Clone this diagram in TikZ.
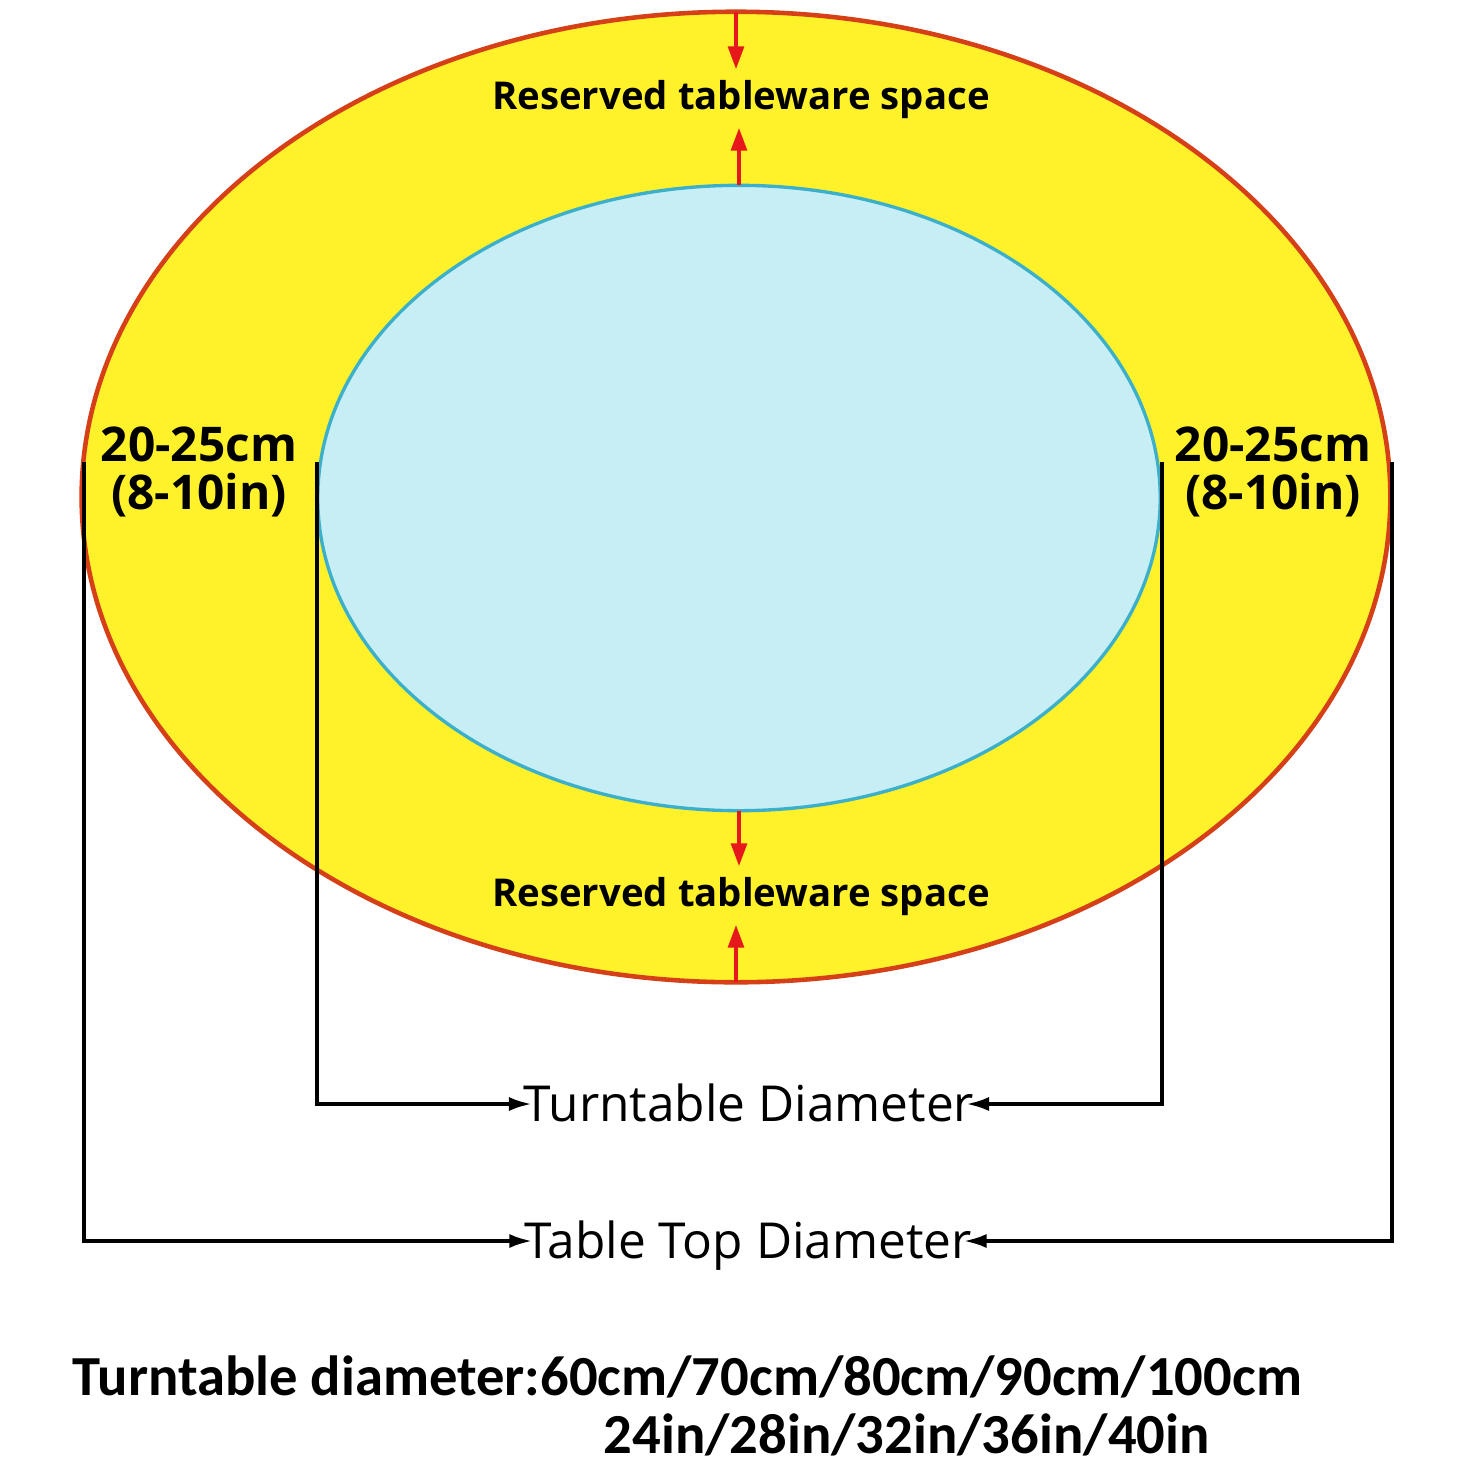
\documentclass[tikz,border=0pt]{standalone}
\usepackage{fontspec}
\setmainfont{Open Sans}
\newfontfamily\narrowfont{Carlito}
\usetikzlibrary{arrows.meta, shapes.geometric, positioning}

\definecolor{tableyellow}{RGB}{255,241,42}
\definecolor{tableedge}{RGB}{214,64,24}
\definecolor{turnblue}{RGB}{198,238,244}
\definecolor{turnedge}{RGB}{60,176,202}
\definecolor{arrowred}{RGB}{230,24,28}

\tikzset{
  reserved/.style={font=\bfseries\fontsize{10.9}{12}\selectfont, inner sep=0pt},
  gaplabel/.style={font=\bfseries\fontsize{13.6}{13.7}\selectfont, align=center, inner sep=0pt},
  diam/.style={font=\fontsize{14.1}{16}\selectfont, inner sep=0pt, text height=10pt, text depth=0pt},
  sizes/.style={font=\narrowfont\bfseries\fontsize{16.1}{18}\selectfont, inner sep=0pt},
  redarrow/.style={draw=arrowred, line width=1.2pt, -{Triangle[length=6.5pt, width=4.4pt]}},
  dimline/.style={line width=1.05pt, line join=miter, shorten >=-2.5pt, -{Latex[length=6.5pt, width=4pt]}},
}

\begin{document}
\begin{tikzpicture}[x=0.01cm, y=-0.01cm]
    % page with the reference margins
    \fill[white] (0,0) rectangle (1468,1469);
    \useasboundingbox (0,0) rectangle (1468,1469);

    % Table top and turntable
    \node[ellipse, fill=tableyellow, draw=tableedge, line width=1.3pt,
          minimum width=13.08cm, minimum height=9.70cm, inner sep=0pt, outer sep=0pt]
          (table) at (736,497) {};
    \node[ellipse, fill=turnblue, draw=turnedge, line width=0.95pt,
          minimum width=8.42cm, minimum height=6.25cm, inner sep=0pt, outer sep=0pt]
          (turn) at (739,498) {};

    % Labels in the yellow ring
    \node[reserved, anchor=base] (rtop) at (741,109) {Reserved tableware space};
    \node[reserved, anchor=base] (rbot) at (741,906) {Reserved tableware space};
    \node[gaplabel] (gapl) at (199,472) {20-25cm\\(8-10in)};
    \node[gaplabel] (gapr) at (1273,472) {20-25cm\\(8-10in)};

    % --- Red arrows for the reserved space ---
    \draw[redarrow, shorten >=2.8pt] (table.north) -- (table.north |- rtop.north);
    \draw[redarrow, shorten >=2.5pt] (turn.north) -- (turn.north |- rtop.south);
    \draw[redarrow, shorten >=2.8pt] (turn.south) -- (turn.south |- rbot.north);
    \draw[redarrow, shorten >=2.5pt] (table.south) -- (table.south |- rbot.south);

    % Dimension lines
    \coordinate (turnL) at (317,462);
    \coordinate (turnR) at (1162,462);
    \coordinate (tableL) at (84,462);
    \coordinate (tableR) at (1392,462);

    \node[diam] (turndiam) at (749,1104) {Turntable Diameter};
    \node[diam] (tablediam) at (748,1241) {Table Top Diameter};

    \draw[dimline] (turnL) |- (turndiam.west);
    \draw[dimline] (turnR) |- (turndiam.east);
    \draw[dimline] (tableL) |- (tablediam.west);
    \draw[dimline] (tableR) |- (tablediam.east);

    % Available sizes
    \node[sizes, anchor=base west] (sizecm) at (72,1395) {Turntable diameter:60cm/70cm/80cm/90cm/100cm};
    \node[sizes, anchor=base west] (sizein) at (603,1453) {24in/28in/32in/36in/40in};
\end{tikzpicture}
\end{document}
